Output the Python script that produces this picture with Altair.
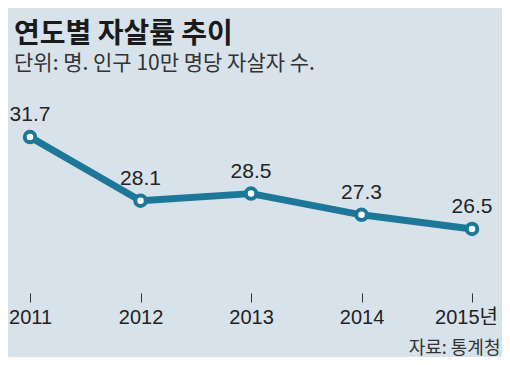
import altair as alt
import pandas as pd

years = [2011, 2012, 2013, 2014, 2015]
rates = [31.7, 28.1, 28.5, 27.3, 26.5]
rate_labels = ["31.7", "28.1", "28.5", "27.3", "26.5"]

title_text = "연도별 자살률 추이"
subtitle_text = "단위: 명. 인구 10만 명당 자살자 수."
source_text = "자료: 통계청"

df = pd.DataFrame({"year": years, "rate": rates, "label": rate_labels})

LINE = "#1d7798"
BG = "#d8e2ea"
KR = "Noto Sans CJK KR"
NUM = "Liberation Sans"

x = alt.X(
    "year:Q",
    scale=alt.Scale(domain=[2010.855, 2015.217], nice=False, zero=False),
    axis=alt.Axis(
        values=years,
        labelExpr="datum.value == 2015 ? '2015년' : datum.value",
        labelOffset={"condition": {"test": "datum.value == 2015", "value": -6}, "value": 0},
        title=source_text,
        titleX=486,
        titleY=64,
        titleAlign="right",
        titleBaseline="bottom",
        titleFont=KR,
        titleFontSize=18,
        titleFontWeight="normal",
        titleColor="#333333",
        domain=False,
        grid=False,
        ticks=True,
        tickSize=9,
        tickWidth=1,
        tickColor="#333333",
        labelFont=NUM + ", " + KR,
        labelFontSize=20,
        labelColor="#222222",
        labelPadding=5,
    ),
)
y = alt.Y(
    "rate:Q",
    scale=alt.Scale(domain=[22.88, 34.19], nice=False, zero=False),
    axis=None,
)

base = alt.Chart(df)

line = base.mark_line(color=LINE, strokeWidth=7, strokeJoin="round").encode(x=x, y=y)
points = base.mark_point(
    filled=True, fill="white", stroke=LINE, strokeWidth=4, size=110, opacity=1
).encode(x=x, y=y)
labels = base.mark_text(
    font=NUM, fontSize=21, color="#222222", dy=-12, baseline="bottom", align="center"
).encode(x=x, y=y, text="label:N")

chart = (
    alt.layer(line, points, labels)
    .properties(
        width=482,
        height=200,
        autosize=alt.AutoSizeParams(type="none"),
        padding={"left": 6, "top": 85, "right": 6, "bottom": 64},
        background=BG,
        title=alt.Title(
            text=title_text,
            subtitle=subtitle_text,
            anchor="start",
            frame="group",
            font=KR,
            fontSize=28,
            fontWeight="bold",
            color="#1a1a1a",
            subtitleFont=KR,
            subtitleFontSize=21,
            subtitleColor="#333333",
            subtitlePadding=4,
            offset=19,
        ),
    )
    .configure_view(stroke=None)
)

chart.save("out.html", embed_options={"renderer": "svg", "actions": False})
